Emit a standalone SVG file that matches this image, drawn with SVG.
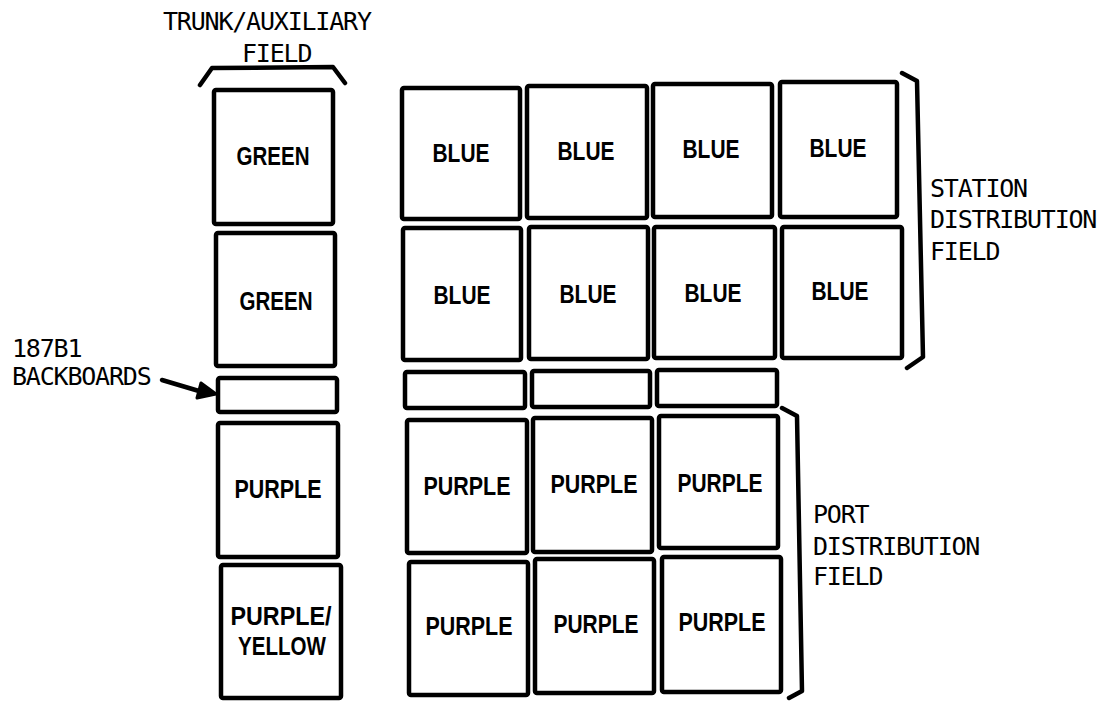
<svg xmlns="http://www.w3.org/2000/svg" width="1109" height="701" viewBox="0 0 1109 701">
<defs>
<style>
.box{fill:#fff;stroke:#000;stroke-width:4.5;stroke-linejoin:round}
.br{fill:none;stroke:#000;stroke-width:4.5;stroke-linejoin:round;stroke-linecap:round}
.lbl{font-family:"Liberation Sans",Arial,sans-serif;font-weight:bold;font-size:26px;fill:#000;text-anchor:middle}
.cap{font-family:"DejaVu Sans Mono","Liberation Mono",monospace;font-size:25px;letter-spacing:-1.2px;fill:#000}
</style>
<marker id="ah" markerWidth="8" markerHeight="8" refX="7" refY="4" orient="auto" markerUnits="userSpaceOnUse" viewBox="0 0 8 8">
<path d="M0,0 L8,4 L0,8 Z" fill="#000"/>
</marker>
</defs>
<rect width="1109" height="701" fill="#fff"/>

<g id="captions">
<text class="cap" x="163" y="30">TRUNK/AUXILIARY</text>
<text class="cap" x="242" y="62">FIELD</text>
<text class="cap" x="12" y="357">187B1</text>
<text class="cap" x="12" y="385">BACKBOARDS</text>
<text class="cap" x="930" y="197">STATION</text>
<text class="cap" x="930" y="228">DISTRIBUTION</text>
<text class="cap" x="930" y="260">FIELD</text>
<text class="cap" x="813" y="523">PORT</text>
<text class="cap" x="813" y="555">DISTRIBUTION</text>
<text class="cap" x="813" y="585">FIELD</text>
</g>

<g id="brackets">
<path class="br" d="M200,85 L212,68 L333,67 L345,83"/>
<path class="br" d="M902,73 L917,81 L923,357 L907,368"/>
<path class="br" d="M782,408 L797,416 L802,691 L789,698"/>
</g>

<g id="trunk-green-1"><rect class="box" x="214" y="90" width="119" height="134" rx="2"/><text class="lbl" x="273" y="165" textLength="73" lengthAdjust="spacingAndGlyphs">GREEN</text></g>
<g id="trunk-green-2"><rect class="box" x="216" y="233" width="119" height="133" rx="2"/><text class="lbl" x="276" y="310" textLength="73" lengthAdjust="spacingAndGlyphs">GREEN</text></g>
<g id="trunk-backboard"><rect class="box" x="218" y="378" width="119" height="34" rx="2"/></g>
<g id="trunk-purple"><rect class="box" x="218" y="423" width="120" height="134" rx="2"/><text class="lbl" x="278" y="498" textLength="87" lengthAdjust="spacingAndGlyphs">PURPLE</text></g>
<g id="trunk-purple-yellow"><rect class="box" x="221" y="565" width="120" height="133" rx="2"/><text class="lbl" x="281" y="625" textLength="101" lengthAdjust="spacingAndGlyphs">PURPLE/</text><text class="lbl" x="282" y="655" textLength="88" lengthAdjust="spacingAndGlyphs">YELLOW</text></g>

<g id="blue-1-1"><rect class="box" x="402" y="88" width="118" height="131" rx="2"/><text class="lbl" x="461" y="162" textLength="57" lengthAdjust="spacingAndGlyphs">BLUE</text></g>
<g id="blue-1-2"><rect class="box" x="527" y="86" width="120" height="132" rx="2"/><text class="lbl" x="586" y="160" textLength="57" lengthAdjust="spacingAndGlyphs">BLUE</text></g>
<g id="blue-1-3"><rect class="box" x="653" y="84" width="119" height="133" rx="2"/><text class="lbl" x="711" y="158" textLength="57" lengthAdjust="spacingAndGlyphs">BLUE</text></g>
<g id="blue-1-4"><rect class="box" x="780" y="82" width="117" height="135" rx="2"/><text class="lbl" x="838" y="157" textLength="57" lengthAdjust="spacingAndGlyphs">BLUE</text></g>

<g id="blue-2-1"><rect class="box" x="403" y="228" width="118" height="132" rx="2"/><text class="lbl" x="462" y="304" textLength="57" lengthAdjust="spacingAndGlyphs">BLUE</text></g>
<g id="blue-2-2"><rect class="box" x="529" y="227" width="119" height="132" rx="2"/><text class="lbl" x="588" y="303" textLength="57" lengthAdjust="spacingAndGlyphs">BLUE</text></g>
<g id="blue-2-3"><rect class="box" x="654" y="227" width="121" height="131" rx="2"/><text class="lbl" x="713" y="302" textLength="57" lengthAdjust="spacingAndGlyphs">BLUE</text></g>
<g id="blue-2-4"><rect class="box" x="782" y="227" width="120" height="131" rx="2"/><text class="lbl" x="840" y="300" textLength="57" lengthAdjust="spacingAndGlyphs">BLUE</text></g>

<g id="backboard-1"><rect class="box" x="405" y="372" width="120" height="36" rx="2"/></g>
<g id="backboard-2"><rect class="box" x="532" y="371" width="118" height="36" rx="2"/></g>
<g id="backboard-3"><rect class="box" x="657" y="370" width="120" height="36" rx="2"/></g>

<g id="purple-3-1"><rect class="box" x="407" y="420" width="120" height="133" rx="2"/><text class="lbl" x="467" y="495" textLength="87" lengthAdjust="spacingAndGlyphs">PURPLE</text></g>
<g id="purple-3-2"><rect class="box" x="533" y="418" width="119" height="134" rx="2"/><text class="lbl" x="594" y="493" textLength="87" lengthAdjust="spacingAndGlyphs">PURPLE</text></g>
<g id="purple-3-3"><rect class="box" x="659" y="416" width="119" height="132" rx="2"/><text class="lbl" x="720" y="492" textLength="85" lengthAdjust="spacingAndGlyphs">PURPLE</text></g>

<g id="purple-4-1"><rect class="box" x="409" y="562" width="119" height="133" rx="2"/><text class="lbl" x="469" y="635" textLength="87" lengthAdjust="spacingAndGlyphs">PURPLE</text></g>
<g id="purple-4-2"><rect class="box" x="535" y="559" width="119" height="134" rx="2"/><text class="lbl" x="596" y="633" textLength="85" lengthAdjust="spacingAndGlyphs">PURPLE</text></g>
<g id="purple-4-3"><rect class="box" x="662" y="557" width="119" height="135" rx="2"/><text class="lbl" x="722" y="631" textLength="87" lengthAdjust="spacingAndGlyphs">PURPLE</text></g>

<g id="connectors">
<line x1="162" y1="380" x2="209" y2="394" stroke="#000" stroke-width="4.5" stroke-linecap="round" marker-end="url(#ah)"/>
<path d="M201,383 L216,394 L197,398 Z" fill="#000" stroke="#000" stroke-width="3" stroke-linejoin="round"/>
</g>
</svg>
